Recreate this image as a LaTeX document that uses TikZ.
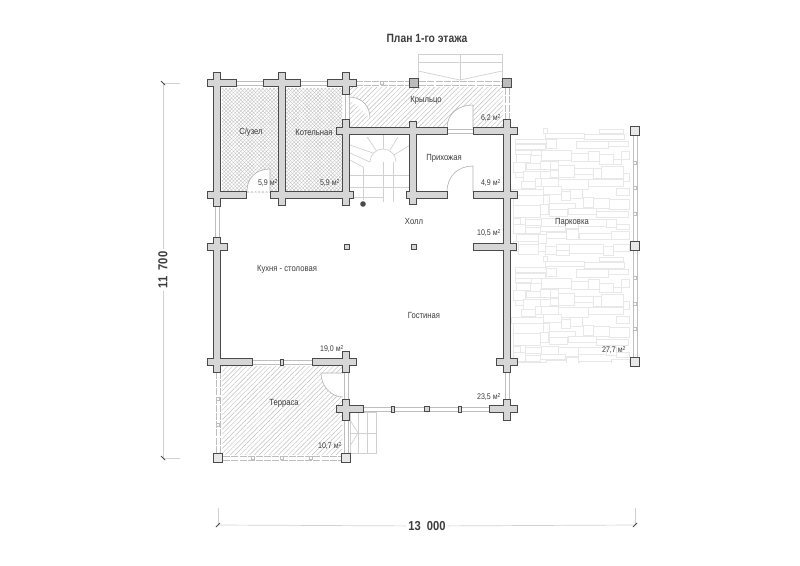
\documentclass[tikz,border=0pt]{standalone}
\usepackage{fontspec}
\setmainfont[FakeStretch=0.86]{Liberation Sans}
\usetikzlibrary{patterns.meta}
\definecolor{wallline}{HTML}{4A4A4A}
\definecolor{wallgray}{HTML}{D6D6D6}
\definecolor{glassline}{HTML}{BEBEBE}
\definecolor{stoneline}{HTML}{E8E8E8}
\definecolor{labelink}{HTML}{3C3C3C}

\tikzset{
	roomlabel/.style={text=labelink,font=\fontsize{8.9}{10}\selectfont,inner sep=0pt},
	arealabel/.style={text=labelink,font=\fontsize{8.2}{9}\selectfont,inner sep=0pt},
	dimlabel/.style={text=labelink,font=\bfseries\fontsize{13}{15}\selectfont,fill=white,inner sep=2pt},
	post/.style={draw=wallline,line width=1.5pt,fill=wallgray!55!white,minimum size=9pt,inner sep=0pt},
	darkpost/.style={post,fill=wallgray!70!gray},
	column/.style={draw=wallline,line width=.9pt,fill=wallgray,minimum size=5.5pt,inner sep=0pt},
	mullion/.style={draw=wallline,line width=.8pt,fill=wallgray,inner sep=0pt,minimum height=6pt,minimum width=3.5pt},
	railmark/.style={draw=glassline,line width=.6pt,fill=white,inner sep=0pt,minimum size=3.5pt},
	glazing/.style={draw=glassline,line width=.7pt},
	railing/.style={draw=glassline,line width=.7pt,dash pattern=on 7pt off 1.2pt},
	stairline/.style={draw=glassline!70!white,line width=.7pt},
	doorswing/.style={draw=glassline!80!gray,line width=.6pt,fill=white},
	stone/.style={draw=stoneline,line width=1pt,fill=white},
	hatchlines/.style={pattern={Lines[angle=45,distance=3.4pt,line width=.45pt]},pattern color=glassline},
	crossa/.style={pattern={Lines[angle=45,distance=2.6pt,line width=.35pt]},pattern color=glassline},
	crossb/.style={pattern={Lines[angle=-45,distance=2.6pt,line width=.35pt]},pattern color=glassline},
	dimline/.style={draw=stoneline!90!black,line width=.7pt},
	dimtick/.style={draw=wallline,line width=1pt},
}

% wall centre lines
\newcommand{\hwalls}{83/208/236,83/264/300,83/328/356,131/337/447,131/474/517,195/208/246,195/271/353,195/407/447,195/474/517,247/474/516,247/208/227,362/208/252,362/313/356,362/497/517,409/337/363,409/490/517}
\newcommand{\vwalls}{217/73/206,217/238/372,282/73/205,346/73/94,346/120/205,346/352/372,346/400/420,413/122/204,507/120/372,507/400/420}

\begin{document}
\begin{tikzpicture}[x=1pt,y=-1pt]
	\useasboundingbox (0,0) rectangle (800,565);

	% hatching
	\foreach \hatch in {crossa,crossb} {
		\fill[\hatch] (222,88) rectangle (278,192);
		\fill[\hatch] (286,88) rectangle (342,192);
	}
	\fill[hatchlines] (350,87) rectangle (503,127);
	\fill[hatchlines] (222,366) rectangle (342,454);

	% parking
	\begin{scope}
		\clip (510,128) rectangle (631,362);
		\foreach \tile in {0,128} {
			\begin{scope}[shift={(490,110+\tile)},x=.3333pt,y=-.3333pt]
				\foreach \sx/\sy/\sw/\sh in {
					160/55/12/15,330/58/70/12,
					165/70/120/16,285/72/120/18,75/88/95/14,170/90/30/25,260/95/95/22,355/95/60/15,
					75/105/90/15,75/122/50/12,125/122/30/15,155/122/90/30,245/130/50/25,295/125/35/30,
					330/135/40/30,370/150/25/15,395/125/25/25,80/135/40/22,70/158/35/30,110/160/40/20,
					150/155/30/25,180/155/25/25,205/168/50/35,255/175/55/20,310/175/25/30,335/170/65/35,
					75/188/25/15,100/185/50/30,150/185/30/20,180/182/25/20,400/190/20/25,95/215/40/20,
					135/205/20/25,155/205/50/25,205/208/90/30,295/210/105/20,65/238/95/20,160/230/55/25,
					215/245/28/28,243/240/35/25,380/235/40/22,70/258/90/30,160/258/18/25,178/280/80/20,
					280/262/32/32,310/265/48/30,358/270/60/30,70/288/80/35,150/285/25/30,178/300/55/20,
					235/295/85/20,320/305/95/18,70/325/20/20,90/323/15/22,105/328/50/20,155/325/50/25,
					205/330/60/25,265/330/85/20,350/330/30/22,380/345/40/15,70/345/35/25,105/352/45/20,
					150/350/75/15,230/360/35/28,270/370/95/20,365/365/55/25,80/375/65/20,145/375/25/25,
					170/368/60/18,85/405/60/28,165/410/35/25,240/405/100/25,340/410/30/26,370/405/50/20,
					200/405/40/18,145/400/20/25,70/395/15/30,200/423/40/14}
					\draw[stone] (\sx,\sy) rectangle ++(\sw,\sh);
			\end{scope}
		}
	\end{scope}

	% porch steps
	\draw[stairline] (418,80) -- (418,54) -- (502,54) -- (502,80);
	\draw[stairline] (418,62) -- (502,62);
	\draw[stairline] (460,54) -- (460,80);
	\draw[stairline] (418,71) -- (460,80) -- (502,71);

	% inner stairs
	\draw[stairline] (370,162) arc[start angle=180,end angle=0,radius=13pt];
	\draw[stairline] (373,153) -- (350,145);
	\draw[stairline] (376,150) -- (367,137);
	\draw[stairline] (383,149) -- (383,135);
	\draw[stairline] (390,150) -- (398,137);
	\draw[stairline] (394,155) -- (410,145);
	\draw[stairline] (370,162) -- (350,153);
	\draw[stairline] (363,167) -- (350,160);
	\draw[stairline] (363,167) -- (363,200);
	\draw[stairline] (383,162) -- (383,202);
	\draw[stairline] (393,162) -- (393,202);
	\draw[stairline] (350,175) -- (383,175);
	\draw[stairline] (350,187) -- (383,187);
	\draw[stairline] (350,197) -- (383,197);
	\draw[stairline] (383,175) -- (409,175);
	\draw[stairline] (383,187) -- (409,187);

	% entrance steps
	\draw[stairline] (350,412) rectangle (376,453);
	\draw[stairline] (358,412) -- (358,453);
	\draw[stairline] (367,412) -- (367,453);
	\draw[stairline] (350,433) -- (376,433);
	\draw[stairline] (350,420) -- (358,433) -- (350,446);

	% door swings
	\draw[doorswing] (370,118) .. controls (370,106) and (362,97) .. (348,97);
	\draw[doorswing] (447,128) .. controls (447,114) and (458,105) .. (473,105) -- (473,128);
	\draw[doorswing] (447,192) .. controls (447,176) and (458,166) .. (473,166) -- (473,192);
	\draw[doorswing] (247,191) .. controls (247,178) and (256,169) .. (270,169) -- (270,191);
	\draw[doorswing] (343,397) .. controls (331,397) and (321,386) .. (321,373) -- (343,373);

	% posts
	\node[darkpost] (postA) at (414,83) {};
	\node[darkpost] (postB) at (507,83) {};
	\node[post] (postC) at (218,458) {};
	\node[post] (postD) at (346,458) {};
	\node[post] (postE) at (635,131) {};
	\node[post] (postF) at (635,246) {};
	\node[post] (postG) at (635,362) {};
	\coordinate (wallN) at (356,83);
	\coordinate (wallS) at (218,372);
	\coordinate (wallE) at (507,120);

	% rails and windows
	\foreach \ws in {-2,2} {
		\draw[railing] ([yshift=\ws pt]wallN) -- ([yshift=\ws pt]postA.west);
		\draw[railing] ([yshift=\ws pt]postA.east) -- ([yshift=\ws pt]postB.west);
		\draw[railing] ([xshift=\ws pt]postB.south) -- ([xshift=\ws pt]wallE);
		\draw[railing] ([xshift=\ws pt]wallS) -- ([xshift=\ws pt]postC.north);
		\draw[railing] ([yshift=\ws pt]postC.east) -- ([yshift=\ws pt]postD.west);
		\draw[glazing] ([xshift=\ws pt]postE.south) -- ([xshift=\ws pt]postF.north);
		\draw[glazing] ([xshift=\ws pt]postF.south) -- ([xshift=\ws pt]postG.north);
		\foreach \wy/\wa/\wb in {83/236/264,83/300/328,131/447/474,362/252/313,409/363/490}
			\draw[glazing] (\wa,\wy+\ws) -- (\wb,\wy+\ws);
		\foreach \wx/\wa/\wb in {217/206/238,347/94/120,346/372/400,346/420/453,507/372/400}
			\draw[glazing] (\wx+\ws,\wa) -- (\wx+\ws,\wb);
	}

	% walls, outline first and then the fill
	\foreach \wy/\wa/\wb in \hwalls
		\draw[wallline,line width=1.4pt] (\wa,\wy-3.3) rectangle (\wb,\wy+3.3);
	\foreach \wx/\wa/\wb in \vwalls
		\draw[wallline,line width=1.4pt] (\wx-3.3,\wa) rectangle (\wx+3.3,\wb);
	\foreach \wy/\wa/\wb in \hwalls
		\fill[wallgray] (\wa,\wy-3.3) rectangle (\wb,\wy+3.3);
	\foreach \wx/\wa/\wb in \vwalls
		\fill[wallgray] (\wx-3.3,\wa) rectangle (\wx+3.3,\wb);

	% columns and mullions
	\node[column] (colA) at (347,247) {};
	\node[column] (colB) at (414,247) {};
	\node[column] (colC) at (427,409) {};
	\node[mullion] (mulA) at (282,362) {};
	\node[mullion] (mulB) at (393,409) {};
	\node[mullion] (mulC) at (460,409) {};
	\fill[wallline] (363,204) circle (2.8pt);

	\foreach \mx/\my [count=\mi] in {382/83,218/399,218/425,253/458,282/458,311/458,635/163,635/188,635/214,635/278,635/304,635/329}
		\node[railmark] (mark\mi) at (\mx,\my) {};

	% rooms
	\node[text=labelink,font=\bfseries\fontsize{12}{13}\selectfont,inner sep=0pt] (title) at (427,38.5) {План 1-го этажа};
	\begin{scope}[every node/.style={roomlabel}]
		\node (wc) at (251,132) {С/узел};
		\node (boiler) at (314,132) {Котельная};
		\node (porch) at (426,100) {Крыльцо};
		\node (lobby) at (444,158) {Прихожая};
		\node (hall) at (414,221) {Холл};
		\node (kitchen) at (287,269) {Кухня - столовая};
		\node (living) at (424,315) {Гостиная};
		\node (terrace) at (284,403) {Терраса};
		\node (parking) at (572,222) {Парковка};
	\end{scope}
	\begin{scope}[every node/.style={arealabel}]
		\node (areaA) at (268,183) {5,9 м\textsuperscript{2}};
		\node (areaB) at (330,183) {5,9 м\textsuperscript{2}};
		\node (areaC) at (491,118) {6,2 м\textsuperscript{2}};
		\node (areaD) at (491,183) {4,9 м\textsuperscript{2}};
		\node (areaE) at (489,233) {10,5 м\textsuperscript{2}};
		\node (areaF) at (332,349) {19,0 м\textsuperscript{2}};
		\node (areaG) at (489,397) {23,5 м\textsuperscript{2}};
		\node (areaH) at (330,446) {10,7 м\textsuperscript{2}};
		\node (areaI) at (614,350) {27,7 м\textsuperscript{2}};
	\end{scope}

	% dimensions
	\coordinate (dimW) at (218,525);
	\coordinate (dimE) at (635,525);
	\coordinate (dimN) at (163,83);
	\coordinate (dimS) at (163,458);
	\node[dimlabel] (widthlabel) at (427,526) {13\ \ 000};
	\node[dimlabel,rotate=90] (heightlabel) at (163,270) {11\ \ 700};
	\draw[dimline] (dimW) -- (widthlabel);
	\draw[dimline] (widthlabel) -- (dimE);
	\draw[dimline] (dimN) -- (heightlabel);
	\draw[dimline] (heightlabel) -- (dimS);
	\draw[dimline] (dimW) -- ++(0,-17);
	\draw[dimline] (dimE) -- ++(0,-17);
	\draw[dimline] (dimN) -- ++(17,0);
	\draw[dimline] (dimS) -- ++(17,0);
	\draw[dimtick] (216,527) -- (220,523);
	\draw[dimtick] (633,527) -- (637,523);
	\draw[dimtick] (161,81) -- (165,85);
	\draw[dimtick] (161,456) -- (165,460);
\end{tikzpicture}
\end{document}
